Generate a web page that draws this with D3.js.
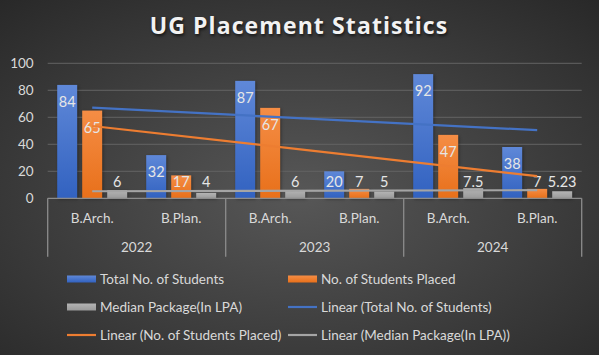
<!DOCTYPE html>
<html><head><meta charset="utf-8">
<script src="https://cdn.jsdelivr.net/npm/d3@7"></script>
<style>html,body{margin:0;padding:0;background:#3a3a3a;}svg{display:block;}</style>
</head><body>
<script>
const years = ["2022", "2023", "2024"];
const programs = ["B.Arch.", "B.Plan."];
const seriesNames = ["Total No. of Students", "No. of Students Placed", "Median Package(In LPA)"];
const totalStudents = [84, 32, 87, 20, 92, 38];
const studentsPlaced = [65, 17, 67, 7, 47, 7];
const medianPackage = [6, 4, 6, 5, 7.5, 5.23];
const yTicks = [0, 20, 40, 60, 80, 100];

const W = 599, H = 355;
const svg = d3.select("body").append("svg").attr("width", W).attr("height", H);
const defs = svg.append("defs");
const bg = defs.append("radialGradient").attr("id", "bg").attr("cx", "50%").attr("cy", "55%").attr("r", "75%");
bg.append("stop").attr("offset", "0%").attr("stop-color", "#575757");
bg.append("stop").attr("offset", "100%").attr("stop-color", "#282828");
function lin(id, top, bot) {
  const g = defs.append("linearGradient").attr("id", id).attr("x1", 0).attr("y1", 0).attr("x2", 0).attr("y2", 1);
  g.append("stop").attr("offset", "0%").attr("stop-color", top);
  g.append("stop").attr("offset", "100%").attr("stop-color", bot);
}
lin("gBlue", "#5f88d8", "#3262c0");
lin("gOrange", "#f58d45", "#e8701a");
lin("gGray", "#b4b4b4", "#9a9a9a");
svg.append("rect").attr("width", W).attr("height", H).attr("fill", "url(#bg)");

const cats = [];
years.forEach(y => programs.forEach(p => cats.push(y + "|" + p)));
const data = cats.map((c, i) => ({cat: c, vals: [totalStudents[i], studentsPlaced[i], medianPackage[i]]}));

const x = d3.scaleBand().domain(cats).range([47.7, 581.7]);
const y = d3.scaleLinear().domain([0, 100]).range([198.3, 63.3]);
const xs = d3.scaleBand().domain(seriesNames).range([0, 75]).paddingInner(0.2).paddingOuter(0.1);
const fills = ["url(#gBlue)", "url(#gOrange)", "url(#gGray)"];
const lineColors = ["#4472c4", "#ed7d31", "#a5a5a5"];
const font = "Lato, 'Open Sans', sans-serif";

// title
svg.append("text").attr("x", 299).attr("y", 34).attr("text-anchor", "middle")
  .attr("font-family", "'Open Sans', sans-serif").attr("font-weight", "bold").attr("font-size", 23)
  .attr("fill", "#f2f2f2").attr("letter-spacing", 1.1)
  .style("text-shadow", "1px 2px 3px rgba(0,0,0,0.6)")
  .text("UG Placement Statistics");

// gridlines
svg.append("g").selectAll("line").data(yTicks.filter(t => t > 0)).join("line")
  .attr("x1", 47.7).attr("x2", 581.7).attr("y1", d => y(d)).attr("y2", d => y(d))
  .attr("stroke", "#636363").attr("stroke-width", 1);

// y axis labels
const yAxis = svg.append("g").attr("transform", "translate(47.7,0)")
  .call(d3.axisLeft(y).tickValues(yTicks).tickSize(0).tickPadding(14));
yAxis.select(".domain").remove();
yAxis.selectAll("text").attr("font-family", font).attr("font-size", 13.5).attr("fill", "#d9d9d9");

// bars
const groups = svg.append("g").selectAll("g").data(data).join("g")
  .attr("transform", d => `translate(${x(d.cat) + x.bandwidth() / 2 - 37.5},0)`);
groups.selectAll("rect").data(d => d.vals.map((v, k) => ({v, k}))).join("rect")
  .attr("x", d => xs(seriesNames[d.k])).attr("width", xs.bandwidth())
  .attr("y", d => y(d.v)).attr("height", d => y(0) - y(d.v))
  .attr("fill", d => fills[d.k])
  .style("filter", "drop-shadow(1px 1px 1.5px rgba(0,0,0,0.35))");

// trendlines (linear regression over category index)
function regress(vals) {
  const n = vals.length, xsI = vals.map((_, i) => i + 1);
  const mx = d3.mean(xsI), my = d3.mean(vals);
  const sxy = d3.sum(vals, (v, i) => (xsI[i] - mx) * (v - my));
  const sxx = d3.sum(xsI, xi => (xi - mx) * (xi - mx));
  const b = sxy / sxx, a = my - b * mx;
  return [a + b * 1, a + b * n];
}
[totalStudents, studentsPlaced, medianPackage].forEach((vals, k) => {
  const [y1, y2] = regress(vals);
  svg.append("line")
    .attr("x1", x(cats[0]) + x.bandwidth() / 2).attr("x2", x(cats[cats.length - 1]) + x.bandwidth() / 2)
    .attr("y1", y(y1)).attr("y2", y(y2))
    .attr("stroke", lineColors[k]).attr("stroke-width", 2.2);
});

// data labels
groups.selectAll("text.lbl").data(d => d.vals.map((v, k) => ({v, k}))).join("text")
  .attr("class", "lbl")
  .attr("x", d => xs(seriesNames[d.k]) + xs.bandwidth() / 2)
  .attr("y", d => d.k === 2 ? y(0) - 16 : Math.min(y(d.v) + 17, y(0) - 16))
  .attr("dy", "0.35em").attr("text-anchor", "middle")
  .attr("font-family", font).attr("font-size", 14.5).attr("fill", "#e6e6e6")
  .text(d => d.v);

// category axis
const ax = svg.append("g").attr("stroke", "#8c8c8c").attr("stroke-width", 1.3);
ax.append("line").attr("x1", 47.7).attr("x2", 581.7).attr("y1", y(0)).attr("y2", y(0));
const bounds = [0, 2, 4, 6].map(i => i < 6 ? x(cats[i]) : x(cats[5]) + x.bandwidth());
ax.selectAll("line.v").data(bounds).join("line").attr("class", "v")
  .attr("x1", d => d).attr("x2", d => d).attr("y1", y(0)).attr("y2", 256.7);
svg.append("g").selectAll("text").data(cats).join("text")
  .attr("x", d => x(d) + x.bandwidth() / 2).attr("y", 218.5).attr("dy", "0.35em")
  .attr("text-anchor", "middle").attr("font-family", font).attr("font-size", 13.5).attr("fill", "#d9d9d9")
  .text(d => d.split("|")[1]);
svg.append("g").selectAll("text").data(years).join("text")
  .attr("x", (d, i) => (bounds[i] + bounds[i + 1]) / 2).attr("y", 247.3).attr("dy", "0.35em")
  .attr("text-anchor", "middle").attr("font-family", font).attr("font-size", 13.5).attr("fill", "#d9d9d9")
  .text(d => d);

// legend
const legendItems = [
  {name: seriesNames[0], type: "bar", k: 0},
  {name: seriesNames[1], type: "bar", k: 1},
  {name: seriesNames[2], type: "bar", k: 2},
  {name: "Linear (" + seriesNames[0] + ")", type: "line", k: 0},
  {name: "Linear (" + seriesNames[1] + ")", type: "line", k: 1},
  {name: "Linear (" + seriesNames[2] + ")", type: "line", k: 2}
];
const lg = svg.append("g").selectAll("g").data(legendItems).join("g")
  .attr("transform", (d, i) => `translate(${i % 2 === 0 ? 67 : 288},${[279, 307, 335][Math.floor(i / 2)]})`);
lg.filter(d => d.type === "bar").append("rect").attr("x", 0).attr("y", -3.5).attr("width", 29).attr("height", 7)
  .attr("fill", d => fills[d.k]);
lg.filter(d => d.type === "line").append("line").attr("x1", 0).attr("x2", 29).attr("y1", 0).attr("y2", 0)
  .attr("stroke", d => lineColors[d.k]).attr("stroke-width", 2.2);
lg.append("text").attr("x", 33).attr("y", 0).attr("dy", "0.35em")
  .attr("font-family", font).attr("font-size", 13.5).attr("fill", "#d9d9d9")
  .text(d => d.name);
</script>
</body></html>
